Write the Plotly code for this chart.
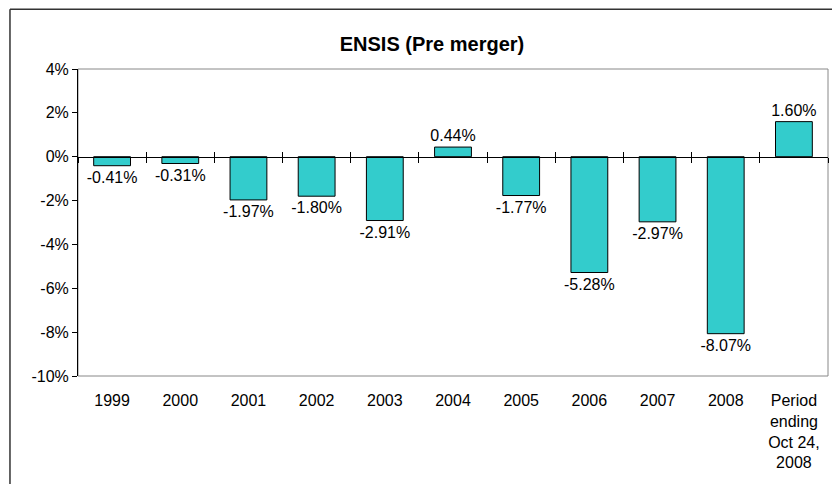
import plotly.graph_objects as go

# Data
categories = ["1999", "2000", "2001", "2002", "2003", "2004", "2005",
              "2006", "2007", "2008", "Period<br>ending<br>Oct 24,<br>2008"]
returns = [-0.41, -0.31, -1.97, -1.80, -2.91, 0.44, -1.77,
           -5.28, -2.97, -8.07, 1.60]
labels = [f"{v:.2f}%" for v in returns]
y_ticks = [4, 2, 0, -2, -4, -6, -8, -10]

FONT = "Arial, Liberation Sans, sans-serif"
y_min, y_max = -10, 4
zero_pos = (0 - y_min) / (y_max - y_min)

fig = go.Figure()

fig.add_trace(go.Bar(
    x=categories, y=returns,
    marker=dict(color="#33CCCC", line=dict(color="black", width=1)),
    text=labels, textposition="outside", cliponaxis=False,
    constraintext="none",
    textfont=dict(family=FONT, size=16, color="black"),
    showlegend=False, hoverinfo="skip",
))

# invisible helpers so the zero-line axes know the categories
for ax in ("x2", "x3"):
    fig.add_trace(go.Scatter(x=categories, y=returns, xaxis=ax, yaxis="y",
                             mode="markers", marker=dict(opacity=0),
                             showlegend=False, hoverinfo="skip"))

zero_axis = dict(
    overlaying="x", matches="x", anchor="free", position=zero_pos,
    type="category", showline=True, linecolor="black", linewidth=1,
    tickson="boundaries", ticklen=5, tickcolor="black",
    showticklabels=False, showgrid=False, zeroline=False,
)

# page body adds an 8px offset, so the figure is drawn slightly smaller
fig.update_layout(
    width=832, height=476,
    margin=dict(l=70, r=12, t=61, b=108),
    paper_bgcolor="white", plot_bgcolor="white",
    bargap=0.46,
    font=dict(family=FONT, size=16, color="black"),
    title=dict(text="<b>ENSIS (Pre merger)</b>", font=dict(family=FONT, size=20, color="black"),
               x=0.472, xref="paper", xanchor="center", y=0.925, yanchor="middle"),
    xaxis=dict(type="category", showline=False, ticks="", showgrid=False,
               zeroline=False, tickfont=dict(size=16), range=[-0.5, 10.5],
               ticklabelstandoff=13),
    xaxis2=dict(zero_axis, ticks="outside"),
    xaxis3=dict(zero_axis, ticks="inside"),
    yaxis=dict(range=[y_min, y_max], tickvals=y_ticks,
               ticktext=[f"{t}%" for t in y_ticks],
               showline=True, linecolor="black", linewidth=1,
               ticks="outside", ticklen=5, tickcolor="black",
               showgrid=False, zeroline=False, tickfont=dict(size=16)),
    shapes=[
        # plot area frame
        dict(type="rect", xref="paper", yref="paper", x0=0, x1=1, y0=0, y1=1,
             line=dict(color="#888888", width=1), layer="below"),
        # outer chart border (left and top edges visible)
        dict(type="line", xref="paper", yref="paper", x0=-0.0907, x1=1.2,
             y0=1.195, y1=1.195, line=dict(color="#333333", width=1.5)),
        dict(type="line", xref="paper", yref="paper", x0=-0.0907, x1=-0.0907,
             y0=1.195, y1=-0.5, line=dict(color="#333333", width=1.5)),
    ],
)

fig.write_html("out.html")
